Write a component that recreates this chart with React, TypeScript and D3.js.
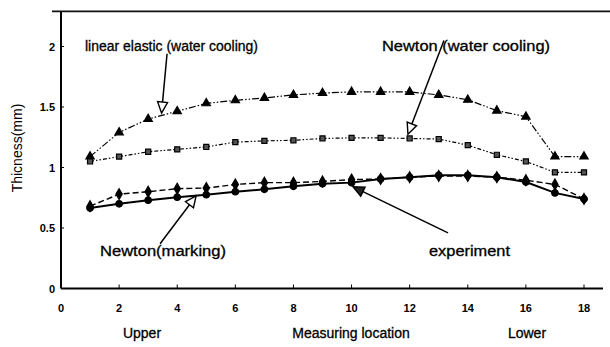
import React, { useEffect, useRef } from 'react';
import * as d3 from 'd3';

// measuring locations 1..18
const locations = [1, 2, 3, 4, 5, 6, 7, 8, 9, 10, 11, 12, 13, 14, 15, 16, 17, 18];
const linearElastic = [1.09, 1.29, 1.40, 1.465, 1.53, 1.555, 1.575, 1.60, 1.615, 1.625, 1.625, 1.625, 1.60, 1.56, 1.47, 1.42, 1.09, 1.09];
const newtonWater = [1.05, 1.09, 1.13, 1.15, 1.17, 1.21, 1.22, 1.225, 1.24, 1.245, 1.245, 1.24, 1.235, 1.185, 1.105, 1.05, 0.96, 0.96];
const newtonMarking = [0.68, 0.78, 0.80, 0.825, 0.83, 0.86, 0.875, 0.875, 0.885, 0.90, 0.905, 0.92, 0.93, 0.93, 0.92, 0.895, 0.86, 0.74];
const experiment = [0.665, 0.70, 0.73, 0.755, 0.775, 0.80, 0.82, 0.845, 0.865, 0.875, 0.905, 0.92, 0.935, 0.935, 0.92, 0.88, 0.79, 0.74];

const xTicks = [0, 2, 4, 6, 8, 10, 12, 14, 16, 18];
const yTicks = [0, 0.5, 1, 1.5, 2];

const width = 610;
const height = 347;
const font = "'Liberation Sans', Arial, sans-serif";

function App() {
  const ref = useRef<SVGSVGElement>(null);

  useEffect(() => {
    const svg = d3.select(ref.current);
    svg.selectAll('*').remove();

    const x = d3.scaleLinear().domain([0, 18]).range([61, 584]);
    const y = d3.scaleLinear().domain([0, 2]).range([288.5, 46.5]);

    // frame
    svg.append('line')
      .attr('x1', x(0)).attr('x2', x(18) + 19)
      .attr('y1', y(0)).attr('y2', y(0))
      .attr('stroke', '#000').attr('stroke-width', 2);
    svg.append('line')
      .attr('x1', x(0)).attr('x2', x(0))
      .attr('y1', y(0)).attr('y2', y(2.29))
      .attr('stroke', '#000').attr('stroke-width', 2);
    svg.append('line')
      .attr('x1', x(0) - 9).attr('x2', width)
      .attr('y1', y(2.29)).attr('y2', y(2.29))
      .attr('stroke', '#111').attr('stroke-width', 1.6);

    // ticks
    svg.selectAll('.xt').data(xTicks.slice(1)).enter().append('line')
      .attr('x1', (d) => x(d)).attr('x2', (d) => x(d))
      .attr('y1', y(0)).attr('y2', y(0) - 4)
      .attr('stroke', '#000');
    svg.selectAll('.yt').data(yTicks.slice(1)).enter().append('line')
      .attr('x1', x(0)).attr('x2', x(0) + 3)
      .attr('y1', (d) => y(d)).attr('y2', (d) => y(d))
      .attr('stroke', '#000');

    svg.selectAll('.xl').data(xTicks).enter().append('text')
      .attr('x', (d) => x(d)).attr('y', 312)
      .attr('text-anchor', 'middle')
      .style('font-family', font).style('font-size', '11px').style('font-weight', 'bold')
      .text((d) => d);
    svg.selectAll('.yl').data(yTicks).enter().append('text')
      .attr('x', 55).attr('y', (d) => y(d) + 4)
      .attr('text-anchor', 'end')
      .style('font-family', font).style('font-size', '11px').style('font-weight', 'bold')
      .text((d) => d);

    // axis titles
    svg.append('text')
      .attr('transform', 'translate(22,148) rotate(-90)')
      .attr('text-anchor', 'middle')
      .style('font-family', font).style('font-size', '14px')
      .text('Thicness(mm)');
    [['Upper', 142], ['Measuring location', 351], ['Lower', 527]].forEach(([t, cx]) => {
      svg.append('text')
        .attr('x', cx).attr('y', 338)
        .attr('text-anchor', 'middle')
        .style('font-family', font).style('font-size', '14px')
        .attr('stroke', '#000').attr('stroke-width', 0.3)
        .text(t as string);
    });

    const series = [
      { values: linearElastic, dash: '7,2,1.5,2,1.5,2', sw: 1.2, symbol: d3.symbolTriangle, size: 30, fill: '#000' },
      { values: newtonWater, dash: '4,2,1.5,2,1.5,2', sw: 1.2, symbol: d3.symbolSquare, size: 26, fill: '#555' },
      { values: newtonMarking, dash: '6,3', sw: 1.4, symbol: d3.symbolDiamond, size: 34, fill: '#000' },
      { values: experiment, dash: null, sw: 2, symbol: d3.symbolCircle, size: 34, fill: '#000' },
    ];

    const line = d3.line<number>()
      .x((_, i) => x(locations[i]))
      .y((d) => y(d));

    series.forEach((s) => {
      svg.append('path')
        .attr('d', line(s.values))
        .attr('fill', 'none')
        .attr('stroke', '#000')
        .attr('stroke-width', s.sw)
        .attr('stroke-dasharray', s.dash);
      svg.selectAll(null).data(s.values).enter().append('path')
        .attr('d', d3.symbol().type(s.symbol).size(s.size))
        .attr('transform', (d, i) => `translate(${x(locations[i])},${y(d)})`)
        .attr('fill', s.fill)
        .attr('stroke', '#000')
        .attr('stroke-width', 1.2);
    });

    // annotations with arrows, endpoints in data units
    const notes = [
      { text: 'linear elastic (water cooling)', tx: 85, ty: 51, len: 173, from: [3.65, 1.94], to: [3.46, 1.45], filled: false },
      { text: 'Newton (water cooling)', tx: 382, ty: 51, len: 168, from: [13.18, 2.05], to: [11.94, 1.275], filled: false },
      { text: 'Newton(marking)', tx: 100, ty: 256, len: 126, from: [3.41, 0.37], to: [4.65, 0.765], filled: false },
      { text: 'experiment', tx: 429, ty: 256, len: 81, from: [13.32, 0.46], to: [10.05, 0.84], filled: true },
    ];

    notes.forEach((n) => {
      svg.append('text')
        .attr('x', n.tx).attr('y', n.ty)
        .attr('textLength', n.len).attr('lengthAdjust', 'spacingAndGlyphs')
        .style('font-family', font).style('font-size', '14px')
        .attr('stroke', '#000').attr('stroke-width', 0.3)
        .text(n.text);

      const x1 = x(n.from[0]);
      const y1 = y(n.from[1]);
      const x2 = x(n.to[0]);
      const y2 = y(n.to[1]);
      const ang = Math.atan2(y2 - y1, x2 - x1);
      const hl = 11;
      const hw = 5;
      const bx = x2 - hl * Math.cos(ang);
      const by = y2 - hl * Math.sin(ang);
      svg.append('line')
        .attr('x1', x1).attr('y1', y1).attr('x2', bx).attr('y2', by)
        .attr('stroke', '#000').attr('stroke-width', 1.5);
      const pts = [
        [x2, y2],
        [bx + hw * Math.sin(ang), by - hw * Math.cos(ang)],
        [bx - hw * Math.sin(ang), by + hw * Math.cos(ang)],
      ];
      svg.append('polygon')
        .attr('points', pts.map((p) => p.join(',')).join(' '))
        .attr('fill', n.filled ? '#222' : '#fff')
        .attr('stroke', '#000').attr('stroke-width', 1.4);
    });
  }, []);

  return (
    <svg
      ref={ref}
      width={width}
      height={height}
      style={{ position: 'absolute', left: 0, top: 0, background: '#fff' }}
    />
  );
}

export default App;
